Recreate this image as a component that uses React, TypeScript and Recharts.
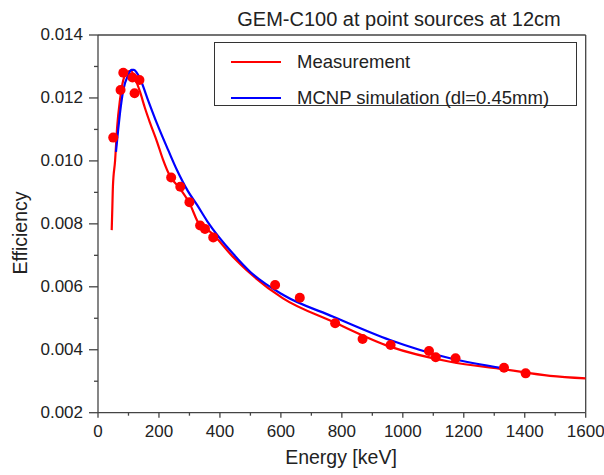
import React from 'react';
import { ComposedChart, Line, Scatter, XAxis, YAxis, ReferenceLine } from 'recharts';

// ---- data ----
const measEnergy = [50, 74, 83, 113, 120, 136, 240, 270, 300, 335, 351, 378, 581, 662, 778, 868, 960, 1086, 1108, 1173, 1332, 1403];
const measEff = [0.01074, 0.01225, 0.0128, 0.01265, 0.01215, 0.01257, 0.00947, 0.00918, 0.00869, 0.00795, 0.00784, 0.00757, 0.00606, 0.00565, 0.00484, 0.00434, 0.00415, 0.00396, 0.00376, 0.00373, 0.00343, 0.00325];

const fitEnergy = [45, 47, 49, 56, 63, 72, 83, 98, 108, 121, 138, 154, 171, 194, 213, 236, 269, 299, 335, 361, 443, 499, 607, 771, 958, 1155, 1332, 1483, 1600];
const fitEff = [0.0078, 0.0085, 0.0092, 0.01, 0.0111, 0.01193, 0.01257, 0.01284, 0.01286, 0.01263, 0.01219, 0.01168, 0.0112, 0.0106, 0.01005, 0.00952, 0.00912, 0.00868, 0.00794, 0.0078, 0.00695, 0.00643, 0.00563, 0.00489, 0.0041, 0.00362, 0.00338, 0.00317, 0.00309];

const mcnpEnergy = [59, 66, 72, 83, 99, 110, 118, 128, 138, 160, 193, 230, 259, 295, 325, 358, 444, 499, 608, 772, 958, 1155, 1332];
const mcnpEff = [0.01029, 0.01098, 0.01151, 0.01225, 0.01273, 0.01289, 0.01289, 0.01279, 0.01262, 0.01204, 0.0112, 0.01035, 0.00971, 0.00904, 0.0086, 0.00809, 0.00704, 0.00648, 0.00574, 0.00505, 0.00431, 0.00373, 0.00341];

const xTicks = [0, 100, 200, 300, 400, 500, 600, 700, 800, 900, 1000, 1100, 1200, 1300, 1400, 1500, 1600];
const yTicks = [0.002, 0.003, 0.004, 0.005, 0.006, 0.007, 0.008, 0.009, 0.01, 0.011, 0.012, 0.013, 0.014];

const title = 'GEM-C100 at point sources at 12cm';
const xLabel = 'Energy [keV]';
const yLabel = 'Efficiency';
const seriesNames = ['Measurement', 'MCNP simulation (dl=0.45mm)'];

const measData = measEnergy.map((x, i) => ({ x, y: measEff[i] }));
const fitData = fitEnergy.map((x, i) => ({ x, y: fitEff[i] }));
const mcnpData = mcnpEnergy.map((x, i) => ({ x, y: mcnpEff[i] }));

// ---- style ----
const FONT = '"Liberation Sans", Arial, sans-serif';
const TEXT = '#222';
const AXIS = '#444';
const RED = '#ff0000';
const BLUE = '#0000ff';

const XTick = (props: any) => {
  const { x, y, payload } = props;
  const v = payload.value;
  const major = v % 200 === 0;
  return (
    <g>
      <line x1={x} x2={x} y1={y} y2={y + (major ? 5 : 3)} stroke={AXIS} strokeWidth={1.3} />
      {major && (
        <text x={x} y={y + 24.5} textAnchor="middle" fontSize={17} fontFamily={FONT} fill={TEXT}>
          {v}
        </text>
      )}
    </g>
  );
};

const YTick = (props: any) => {
  const { x, y, payload } = props;
  const v = payload.value;
  const major = Math.round(v * 1000) % 2 === 0;
  return (
    <g>
      <line x1={x - (major ? 9 : 4)} x2={x} y1={y} y2={y} stroke={AXIS} strokeWidth={1.3} />
      {major && (
        <text x={x - 15} y={y - 1} dy="0.35em" textAnchor="end" fontSize={17} fontFamily={FONT} fill={TEXT}>
          {v.toFixed(3)}
        </text>
      )}
    </g>
  );
};

const Dot = (props: any) => <circle cx={props.cx} cy={props.cy} r={5} fill={RED} />;

export default function App() {
  return (
    <div style={{ position: 'relative', width: 604, height: 475, fontFamily: FONT, color: TEXT }}>
      <style>{`body{margin:0}`}</style>
      <ComposedChart width={604} height={475} margin={{ top: 35, right: 18.3, left: 0, bottom: 32.3 }}>
        <XAxis
          dataKey="x"
          type="number"
          domain={[0, 1600]}
          ticks={xTicks}
          interval={0}
          height={30}
          tickSize={0}
          tickMargin={0}
          tickLine={false}
          tick={<XTick />}
          axisLine={{ stroke: AXIS, strokeWidth: 1.3 }}
          allowDataOverflow
        />
        <YAxis
          dataKey="y"
          type="number"
          domain={[0.002, 0.014]}
          ticks={yTicks}
          interval={0}
          width={98}
          tickSize={0}
          tickMargin={0}
          tickLine={false}
          tick={<YTick />}
          axisLine={{ stroke: AXIS, strokeWidth: 1.3 }}
          allowDataOverflow
        />
        <ReferenceLine y={0.014} stroke={AXIS} strokeWidth={1.3} />
        <ReferenceLine x={1600} stroke={AXIS} strokeWidth={1.3} />
        <Line data={fitData} dataKey="y" type="monotone" stroke={RED} strokeWidth={2.2} dot={false} isAnimationActive={false} />
        <Line data={mcnpData} dataKey="y" type="monotone" stroke={BLUE} strokeWidth={2.2} dot={false} isAnimationActive={false} />
        <Scatter data={measData} dataKey="y" fill={RED} shape={<Dot />} isAnimationActive={false} />
      </ComposedChart>

      {/* title */}
      <div style={{ position: 'absolute', left: 199, width: 400, top: 9, fontSize: 20, lineHeight: '20px', textAlign: 'center', whiteSpace: 'nowrap' }}>
        {title}
      </div>
      {/* x label */}
      <div style={{ position: 'absolute', left: 241, width: 200, top: 448, fontSize: 19.5, lineHeight: '19.5px', textAlign: 'center', whiteSpace: 'nowrap' }}>
        {xLabel}
      </div>
      {/* y label */}
      <div style={{ position: 'absolute', left: 21, top: 233, fontSize: 19.5, lineHeight: '19.5px', whiteSpace: 'nowrap', transform: 'translate(-50%, -50%) rotate(-90deg)' }}>
        {yLabel}
      </div>
      {/* legend */}
      <div style={{ position: 'absolute', left: 214, top: 42, width: 361, height: 62, border: '1.3px solid #333', background: '#fff' }} />
      <div style={{ position: 'absolute', left: 231, top: 61, width: 50, height: 2, background: RED }} />
      <div style={{ position: 'absolute', left: 231, top: 97, width: 50, height: 2, background: BLUE }} />
      <div style={{ position: 'absolute', left: 297, top: 53, fontSize: 18.5, lineHeight: '18.5px', whiteSpace: 'nowrap' }}>{seriesNames[0]}</div>
      <div style={{ position: 'absolute', left: 297, top: 89, fontSize: 18.5, lineHeight: '18.5px', whiteSpace: 'nowrap' }}>{seriesNames[1]}</div>
    </div>
  );
}
